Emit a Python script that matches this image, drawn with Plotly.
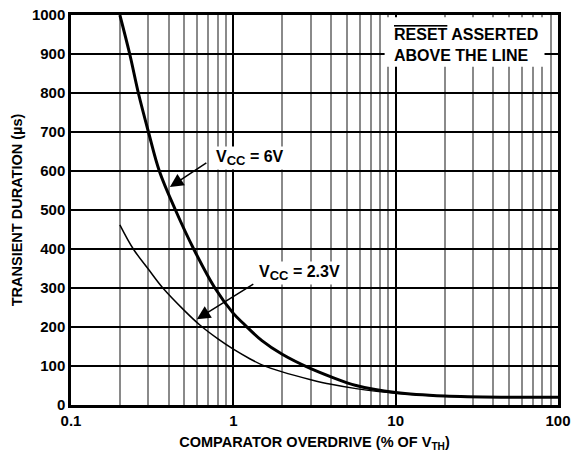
import plotly.graph_objects as go

# comparator overdrive (% of VTH) and transient duration (us)
vcc6_x = [0.2, 0.23, 0.26, 0.3, 0.35, 0.44, 0.57, 0.77, 1.0, 1.18, 1.5, 2, 3, 4, 5.7, 10, 20, 50, 100]
vcc6_y = [1000, 900, 800, 700, 600, 500, 400, 300, 235, 205, 165, 130, 93, 72, 50, 32, 23, 20, 20]

vcc23_x = [0.2, 0.242, 0.3, 0.368, 0.5, 0.622, 0.8, 1.0, 1.27, 1.5, 2, 3, 4, 5.7, 10, 20, 50, 100]
vcc23_y = [462, 400, 348, 300, 242, 205, 170, 143, 118, 103, 85, 65, 53, 42, 30, 23, 20, 20]

x_ticks = [0.1, 1, 10, 100]
x_labels = ['0.1', '1', '10', '100']
y_ticks = list(range(0, 1001, 100))

minor_x = [m * d for d in (0.1, 1, 10) for m in range(2, 10)]

FONT = 'Arial, Liberation Sans, sans-serif'


def bold(size):
    return dict(family=FONT, size=size, color='black', weight='bold')


fig = go.Figure()
fig.add_trace(go.Scatter(x=vcc6_x, y=vcc6_y, mode='lines', line=dict(color='black', width=3, shape='spline'),
                         showlegend=False))
fig.add_trace(go.Scatter(x=vcc23_x, y=vcc23_y, mode='lines', line=dict(color='black', width=1.5, shape='spline'),
                         showlegend=False))

# white box behind the note in the top right corner
fig.add_shape(type='rect', xref='x', yref='y', x0=8.55, x1=82.6, y0=867, y1=994,
              fillcolor='white', line=dict(width=0), layer='above')

fig.add_annotation(x=0.975, y=923, xref='x', yref='y', xanchor='left', yanchor='middle', align='left',
                   showarrow=False,
                   text='<span style="text-decoration:overline">RESET</span> ASSERTED<br>ABOVE THE LINE',
                   font=bold(16))

# curve labels
sub_cc = '<sub><span style="font-size:13px">CC</span></sub>'
fig.add_annotation(x=-0.12, y=633, xref='x', yref='y', xanchor='left', yanchor='middle', showarrow=False,
                   text='V' + sub_cc + ' = 6V', bgcolor='white', borderpad=1, font=bold(16))
fig.add_annotation(x=0.145, y=338, xref='x', yref='y', xanchor='left', yanchor='middle', showarrow=False,
                   text='V' + sub_cc + ' = 2.3V', bgcolor='white', borderpad=1, font=bold(16))

# arrows pointing at the curves
fig.add_annotation(x=-0.391, y=559, xref='x', yref='y', text='', showarrow=True, ax=38, ay=-25,
                   arrowhead=2, arrowsize=1.8, arrowwidth=1.5, arrowcolor='black', standoff=0)
fig.add_annotation(x=-0.225, y=220, xref='x', yref='y', text='', showarrow=True, ax=58, ay=-36,
                   arrowhead=2, arrowsize=1.8, arrowwidth=1.5, arrowcolor='black', standoff=0)

fig.update_layout(
    width=576, height=455,
    margin=dict(l=71, r=18, t=15, b=50),
    paper_bgcolor='white', plot_bgcolor='white',
    font=bold(15),
    xaxis=dict(
        type='log', range=[-1, 2], automargin=False,
        tickvals=x_ticks, ticktext=x_labels, ticks='',
        showgrid=True, gridcolor='black', gridwidth=2,
        minor=dict(tickvals=minor_x, showgrid=True, gridcolor='#8a8a8a', gridwidth=1.5, ticks=''),
        showline=True, linecolor='black', linewidth=2.5, mirror=True,
        zeroline=False,
        tickfont=bold(15),
        title=dict(text='COMPARATOR OVERDRIVE (% OF V<sub>TH</sub>)', standoff=10, font=bold(14.5)),
    ),
    yaxis=dict(
        range=[0, 1000], tickvals=y_ticks, ticks='', automargin=False,
        showgrid=True, gridcolor='black', gridwidth=1.5,
        showline=True, linecolor='black', linewidth=2.5, mirror=True,
        zeroline=False,
        tickfont=bold(15),
        title=dict(text='TRANSIENT DURATION (µs)', standoff=6, font=bold(14.5)),
    ),
)

# the page's default body margin would shift the chart by 8px
fig.write_html("out.html", config={'displayModeBar': False},
               post_script="document.body.style.margin = '0';")
